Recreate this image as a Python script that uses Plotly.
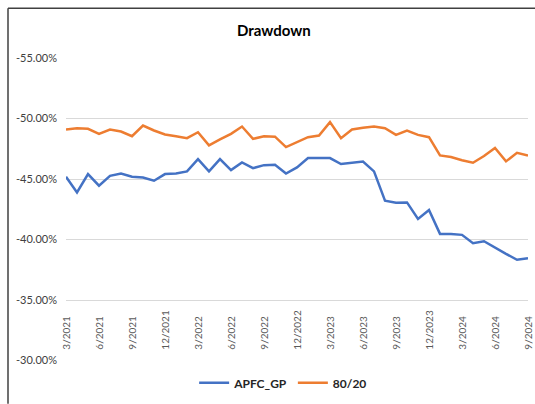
import plotly.graph_objects as go

months = ["3/2021", "4/2021", "5/2021", "6/2021", "7/2021", "8/2021", "9/2021", "10/2021", "11/2021", "12/2021",
          "1/2022", "2/2022", "3/2022", "4/2022", "5/2022", "6/2022", "7/2022", "8/2022", "9/2022", "10/2022",
          "11/2022", "12/2022", "1/2023", "2/2023", "3/2023", "4/2023", "5/2023", "6/2023", "7/2023", "8/2023",
          "9/2023", "10/2023", "11/2023", "12/2023", "1/2024", "2/2024", "3/2024", "4/2024", "5/2024", "6/2024",
          "7/2024", "8/2024", "9/2024"]

apfc_gp = [-45.19, -43.90, -45.41, -44.45, -45.27, -45.46, -45.19, -45.13, -44.86, -45.41,
           -45.46, -45.63, -46.65, -45.63, -46.65, -45.74, -46.37, -45.90, -46.15, -46.18,
           -45.46, -45.96, -46.73, -46.73, -46.73, -46.24, -46.34, -46.45, -45.63, -43.21,
           -43.05, -43.07, -41.70, -42.45, -40.47, -40.47, -40.39, -39.70, -39.86, -39.32,
           -38.82, -38.33, -38.46]

s80_20 = [-49.09, -49.20, -49.15, -48.73, -49.09, -48.93, -48.54, -49.42, -49.01, -48.68,
          -48.54, -48.38, -48.87, -47.78, -48.27, -48.73, -49.34, -48.32, -48.54, -48.50,
          -47.64, -48.05, -48.46, -48.60, -49.70, -48.38, -49.09, -49.23, -49.34, -49.20,
          -48.65, -49.01, -48.65, -48.46, -46.95, -46.82, -46.55, -46.35, -46.90, -47.56,
          -46.46, -47.17, -46.95]

x_ticks = ["3/2021", "6/2021", "9/2021", "12/2021", "3/2022", "6/2022", "9/2022", "12/2022",
           "3/2023", "6/2023", "9/2023", "12/2023", "3/2024", "6/2024", "9/2024"]
y_ticks = [-55, -50, -45, -40, -35, -30]

BLUE = "#4472C4"
ORANGE = "#ED7D31"
FONT = "Lato"

fig = go.Figure()
fig.add_trace(go.Scatter(x=months, y=apfc_gp, mode="lines", name="APFC_GP",
                         line=dict(color=BLUE, width=2.5)))
fig.add_trace(go.Scatter(x=months, y=s80_20, mode="lines", name="80/20",
                         line=dict(color=ORANGE, width=2.5)))

L, R, T, B = 66, 528, 58, 363
W, H = 535, 404

def px_x(p):
    return (p - L) / (R - L)

def px_y(p):
    return (B - p) / (B - T)

annotations = [
    dict(x=m, y=y_ticks[-1], xref="x", yref="y", text=m, textangle=-90,
         showarrow=False, xanchor="center", yanchor="bottom", yshift=9,
         font=dict(family=FONT, size=10, color="#595959"))
    for m in x_ticks
]

fig.update_layout(
    width=W, height=H,
    margin=dict(l=L, r=W - R, t=T, b=H - B),
    paper_bgcolor="white", plot_bgcolor="white",
    title=dict(text="<b>Drawdown</b>", x=0.512, xref="container", xanchor="center",
               y=1 - 31 / H, yref="container", yanchor="middle",
               font=dict(family=FONT, size=15, color="#000000")),
    xaxis=dict(type="category", categoryorder="array", categoryarray=months,
               range=[0, 42], showticklabels=False,
               showgrid=False, showline=False, zeroline=False, ticks=""),
    yaxis=dict(range=[-29.97, -55], tickmode="array", tickvals=y_ticks,
               ticktext=[f"{v:.2f}%" for v in y_ticks],
               showgrid=True, gridcolor="#D9D9D9", gridwidth=1,
               zeroline=False, showline=False, ticks="", ticklabelstandoff=8,
               tickfont=dict(family=FONT, size=11, color="#404040")),
    legend=dict(orientation="h", x=0.47, xanchor="center", y=px_y(385), yanchor="middle",
                font=dict(family=FONT, size=12, color="#262626", weight="bold"),
                itemwidth=30, bgcolor="rgba(0,0,0,0)"),
    annotations=annotations,
    shapes=[
        dict(type="line", xref="paper", yref="paper", x0=px_x(8), x1=px_x(W + 2),
             y0=px_y(8), y1=px_y(8), line=dict(color="#404040", width=1.5)),
        dict(type="line", xref="paper", yref="paper", x0=px_x(8), x1=px_x(8),
             y0=px_y(8), y1=px_y(H + 2), line=dict(color="#404040", width=1.5)),
    ],
)

fig.write_html("out.html")
